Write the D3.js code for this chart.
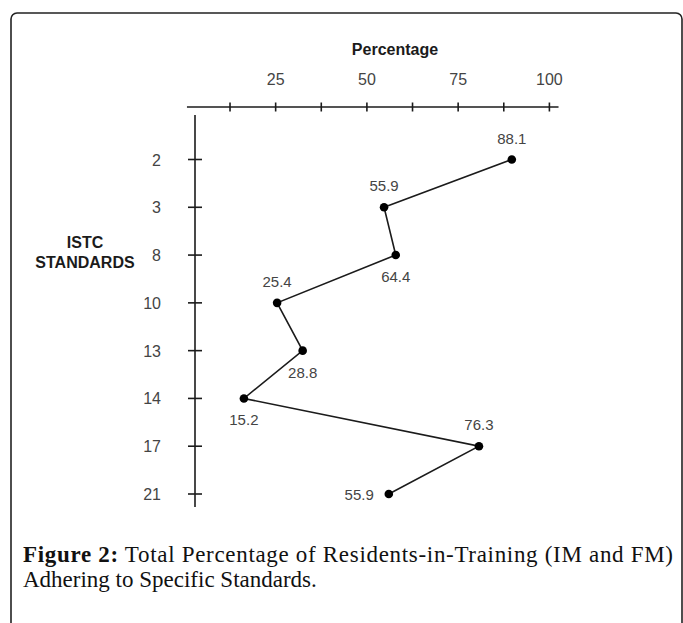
<!DOCTYPE html>
<html>
<head>
<meta charset="utf-8">
<script src="https://cdn.jsdelivr.net/npm/d3@7/dist/d3.min.js"></script>
<style>
  html, body { margin: 0; padding: 0; background: #fff; }
  svg { display: block; }
</style>
</head>
<body>
<svg id="chart" width="683" height="623"></svg>
<script>
// ---- data ----
const standards = ["2", "3", "8", "10", "13", "14", "17", "21"];
const percentLabels = [88.1, 55.9, 64.4, 25.4, 28.8, 15.2, 76.3, 55.9];
// horizontal position of each marker as drawn in the source figure (percentage units)
const markerValues = [89.7, 54.7, 57.9, 25.4, 32.4, 16.3, 80.7, 56.0];
const labelSide = ["above", "above", "below", "above", "below", "below", "above", "left"];
const xTickValues = [12.5, 25, 37.5, 50, 62.5, 75, 87.5, 100];
const xTickLabels = ["", "25", "", "50", "", "75", "", "100"];
const xTitle = "Percentage";
const yTitle = ["ISTC", "STANDARDS"];
const captionBold = "Figure 2:";
const captionLine1 = " Total Percentage of Residents-in-Training (IM and FM)";
const captionLine2 = "Adhering to Specific Standards.";

const svg = d3.select("#chart");
const sans = "'Liberation Sans', Arial, Helvetica, sans-serif";
const serif = "'Liberation Serif', 'DejaVu Serif', serif";
const ink = "#1b1b1b";
const grey = "#444";

// frame
svg.append("rect")
  .attr("x", 11).attr("y", 13)
  .attr("width", 671).attr("height", 700)
  .attr("rx", 6).attr("ry", 6)
  .attr("fill", "none").attr("stroke", "#222").attr("stroke-width", 1.6);

// scales
const x = d3.scaleLinear().domain([0, 100]).range([184.4, 549.4]);
const y = d3.scalePoint().domain(standards).range([159.5, 494]);

const axisY = 107;     // horizontal axis position
const axisX = 195;     // vertical axis position

// top axis
const gx = svg.append("g").attr("transform", `translate(0,${axisY})`);
gx.append("line")
  .attr("x1", x(0.7)).attr("x2", x(102.5))
  .attr("stroke", ink).attr("stroke-width", 1.6);
gx.selectAll("line.tick").data(xTickValues).join("line")
  .attr("class", "tick")
  .attr("x1", d => x(d)).attr("x2", d => x(d))
  .attr("y1", -4.5).attr("y2", 4.5)
  .attr("stroke", ink).attr("stroke-width", 1.6);
gx.selectAll("text").data(xTickValues).join("text")
  .attr("x", d => x(d))
  .attr("y", -22)
  .attr("text-anchor", "middle")
  .attr("font-family", sans).attr("font-size", 16)
  .attr("fill", grey)
  .text((d, i) => xTickLabels[i]);

svg.append("text")
  .attr("x", 395).attr("y", 55)
  .attr("text-anchor", "middle")
  .attr("font-family", sans).attr("font-size", 16).attr("font-weight", "bold")
  .attr("fill", ink)
  .text(xTitle);

// left axis
const gy = svg.append("g").attr("transform", `translate(${axisX},0)`);
gy.append("line")
  .attr("y1", 115).attr("y2", 507)
  .attr("stroke", ink).attr("stroke-width", 1.6);
gy.selectAll("line.tick").data(standards).join("line")
  .attr("class", "tick")
  .attr("y1", d => y(d)).attr("y2", d => y(d))
  .attr("x1", -7).attr("x2", 7)
  .attr("stroke", ink).attr("stroke-width", 1.6);
gy.selectAll("text").data(standards).join("text")
  .attr("x", -34)
  .attr("y", d => y(d) + 6)
  .attr("text-anchor", "end")
  .attr("font-family", sans).attr("font-size", 16)
  .attr("fill", grey)
  .text(d => d);

svg.append("text")
  .attr("x", 85).attr("y", 248)
  .attr("text-anchor", "middle")
  .attr("font-family", sans).attr("font-size", 16).attr("font-weight", "bold")
  .attr("fill", ink)
  .selectAll("tspan").data(yTitle).join("tspan")
  .attr("x", 85).attr("dy", (d, i) => i === 0 ? 0 : 19.5)
  .text(d => d);

// line + points
const pts = standards.map((s, i) => ({ s, v: markerValues[i], lab: percentLabels[i], side: labelSide[i] }));
const line = d3.line().x(d => x(d.v)).y(d => y(d.s));
svg.append("path")
  .datum(pts)
  .attr("d", line)
  .attr("fill", "none").attr("stroke", ink).attr("stroke-width", 1.6);
svg.selectAll("circle.pt").data(pts).join("circle")
  .attr("class", "pt")
  .attr("cx", d => x(d.v)).attr("cy", d => y(d.s))
  .attr("r", 4.3).attr("fill", "#000");

svg.selectAll("text.lab").data(pts).join("text")
  .attr("class", "lab")
  .attr("x", d => d.side === "left" ? x(d.v) - 15 : x(d.v))
  .attr("y", d => d.side === "above" ? y(d.s) - 16 : d.side === "below" ? y(d.s) + 27 : y(d.s) + 6)
  .attr("text-anchor", d => d.side === "left" ? "end" : "middle")
  .attr("font-family", sans).attr("font-size", 15)
  .attr("fill", grey)
  .text(d => d.lab.toFixed(1));

// caption
const cap1 = svg.append("text")
  .attr("x", 23).attr("y", 562)
  .attr("font-family", serif).attr("font-size", 23)
  .attr("fill", "#111")
  .attr("textLength", 650).attr("lengthAdjust", "spacing");
cap1.append("tspan").attr("font-weight", "bold").text(captionBold);
cap1.append("tspan").text(captionLine1);

svg.append("text")
  .attr("x", 23).attr("y", 587)
  .attr("font-family", serif).attr("font-size", 23)
  .attr("fill", "#111")
  .text(captionLine2);
</script>
</body>
</html>
